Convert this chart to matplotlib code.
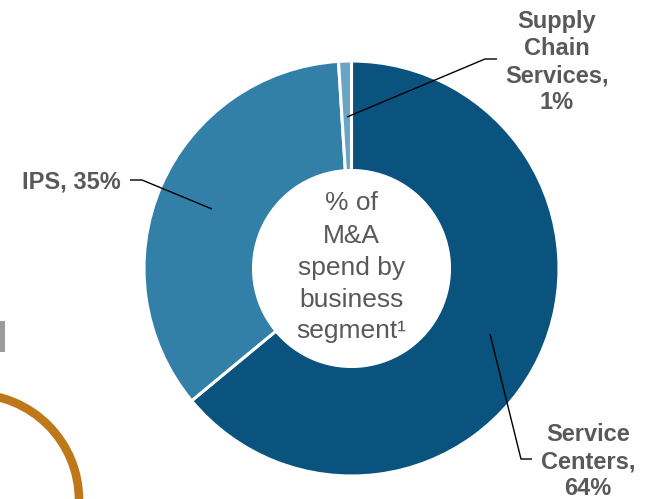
import matplotlib
matplotlib.use("Agg")
import matplotlib.pyplot as plt
from matplotlib.patches import Rectangle, Circle

# Share of M&A spend by business segment (clockwise from 12 o'clock)
segments = ["Service Centers", "IPS", "Supply Chain Services"]
shares = [64, 35, 1]
label_lines = {
    "Service Centers": ["Service", "Centers,", "64%"],
    "IPS": ["IPS, 35%"],
    "Supply Chain Services": ["Supply", "Chain", "Services,", "1%"],
}
colors = ["#0A537E", "#3280A7", "#6AA4C6"]
center_lines = ["% of", "M&A", "spend by", "business", "segment\u00b9"]

W, H = 648, 499
TEXT = "#595959"
FONT = "Liberation Sans"

fig = plt.figure(figsize=(W / 100, H / 100), dpi=100)
ax = fig.add_axes([0, 0, 1, 1])


def Y(y):
    """Flip a top-down pixel row into axis coordinates."""
    return H - y


cx, cy = 351.5, Y(268.5)
r_out, r_in = 207.5, 98

ax.pie(shares, colors=colors, startangle=90, counterclock=False,
       center=(cx, cy), radius=r_out,
       wedgeprops=dict(width=r_out - r_in, edgecolor="white", linewidth=2.2))

ax.set_xlim(0, W)
ax.set_ylim(0, H)
ax.set_aspect("auto")
ax.axis("off")

# Decorative elements at the left edge
ax.add_patch(Rectangle((0, Y(352)), 5, 31, facecolor="#9B9B9D", edgecolor="none"))
ax.add_patch(Circle((-27, Y(500)), 106, fill=False, edgecolor="#BE7719", linewidth=6.2))

# Centre caption
for line, yb in zip(center_lines, [210, 243, 275, 307, 338]):
    ax.text(cx, Y(yb), line, ha="center", va="baseline", fontsize=19,
            color=TEXT, family=FONT)

# Segment labels
label_pos = {
    "Service Centers": (588, [441, 468, 495]),
    "IPS": (71, [188]),
    "Supply Chain Services": (557, [28, 55, 82, 109]),
}
for seg in segments:
    x, ys = label_pos[seg]
    for line, yb in zip(label_lines[seg], ys):
        ax.text(x, Y(yb), line, ha="center", va="baseline", fontsize=17,
                fontweight="bold", color=TEXT, family=FONT)

# Leader lines
leaders = [
    [(130, 180), (142, 180), (212, 209)],
    [(347, 117), (485, 59), (497, 59)],
    [(490, 334), (521, 459), (532, 459)],
]
for pts in leaders:
    ax.plot([p[0] for p in pts], [Y(p[1]) for p in pts], color="black",
            linewidth=1.0, solid_capstyle="butt")

fig.savefig("out.png", dpi=100)
